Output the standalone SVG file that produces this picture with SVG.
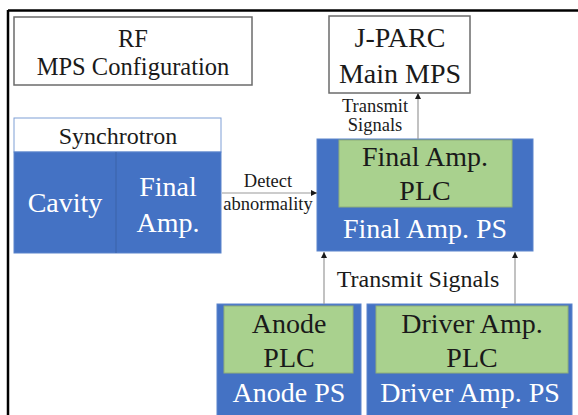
<svg xmlns="http://www.w3.org/2000/svg" width="578" height="415" viewBox="0 0 578 415">
<style>
  text { font-family: "Liberation Serif", "Times New Roman", serif; text-anchor: middle; fill: #1a1a1a; }
  .w { fill: #ffffff; }
  .big { font-size: 28px; }
  .sm { font-size: 18.5px; }
  .blue { fill: #4472C4; stroke: #5a84cc; stroke-width: 1; }
  .green { fill: #A9D18E; stroke: #8fae78; stroke-width: 1; }
  .plain { fill: #ffffff; stroke: #6b6b6b; stroke-width: 1.5; }
  .conn { stroke: #999999; stroke-width: 1.2; fill: none; marker-end: url(#ah); }
</style>
<defs>
  <marker id="ah" viewBox="0 0 10 10" refX="10" refY="5" markerWidth="7" markerHeight="6" markerUnits="userSpaceOnUse" orient="auto">
    <path d="M0,0 L10,5 L0,10 z" fill="#1a1a1a"/>
  </marker>
</defs>
<rect width="578" height="415" fill="#ffffff"/>
<g id="frame">
  <line x1="8" y1="10.5" x2="578" y2="10.5" stroke="#000" stroke-width="2.5"/>
  <line x1="8" y1="10" x2="8" y2="415" stroke="#000" stroke-width="2.5"/>
</g>
<g id="title">
  <rect class="plain" x="14" y="17" width="238" height="68"/>
  <text x="133" y="47" style="font-size:24.5px">RF</text>
  <text x="133" y="75" style="font-size:24.5px">MPS Configuration</text>
</g>
<g id="jparc">
  <rect class="plain" x="329" y="16" width="141" height="77"/>
  <text class="big" x="400" y="47">J-PARC</text>
  <text class="big" x="400" y="83">Main MPS</text>
</g>
<g id="synchrotron">
  <rect x="14" y="118" width="207" height="34" fill="#ffffff" stroke="#7f9fd6" stroke-width="1"/>
  <text x="118" y="144" style="font-size:24px">Synchrotron</text>
  <rect class="blue" x="14" y="152" width="207" height="101"/>
  <line x1="116" y1="152" x2="116" y2="253" stroke="#3a62a8" stroke-width="1"/>
  <text class="big w" x="65" y="212">Cavity</text>
  <text class="big w" x="168" y="196">Final</text>
  <text class="big w" x="168" y="232">Amp.</text>
</g>
<g id="finalamp">
  <rect class="blue" x="317" y="139" width="216" height="112"/>
  <rect class="green" x="339" y="140" width="173" height="67"/>
  <text class="big" x="425" y="166">Final Amp.</text>
  <text class="big" x="425" y="200">PLC</text>
  <text class="big w" x="425" y="238">Final Amp. PS</text>
</g>
<g id="anode">
  <rect class="blue" x="217" y="304" width="144" height="112"/>
  <rect class="green" x="224" y="306" width="129" height="67"/>
  <text class="big" x="289" y="333">Anode</text>
  <text class="big" x="289" y="367">PLC</text>
  <text class="big w" x="289" y="402">Anode PS</text>
</g>
<g id="driver">
  <rect class="blue" x="367" y="304" width="205" height="112"/>
  <rect class="green" x="376" y="306" width="192" height="67"/>
  <text class="big" x="472" y="333">Driver Amp.</text>
  <text class="big" x="472" y="367">PLC</text>
  <text class="big w" x="470" y="402">Driver Amp. PS</text>
</g>
<g id="connectors">
  <line class="conn" x1="418" y1="139" x2="418" y2="93"/>
  <text class="sm" x="375" y="112">Transmit</text>
  <text class="sm" x="375" y="131">Signals</text>
  <line class="conn" x1="222" y1="193" x2="317" y2="193"/>
  <text class="sm" x="268" y="187">Detect</text>
  <text class="sm" x="268" y="210">abnormality</text>
  <line class="conn" x1="324" y1="304" x2="324" y2="252"/>
  <line class="conn" x1="515" y1="304" x2="515" y2="252"/>
  <text x="418" y="287" style="font-size:24px">Transmit Signals</text>
</g>
</svg>
